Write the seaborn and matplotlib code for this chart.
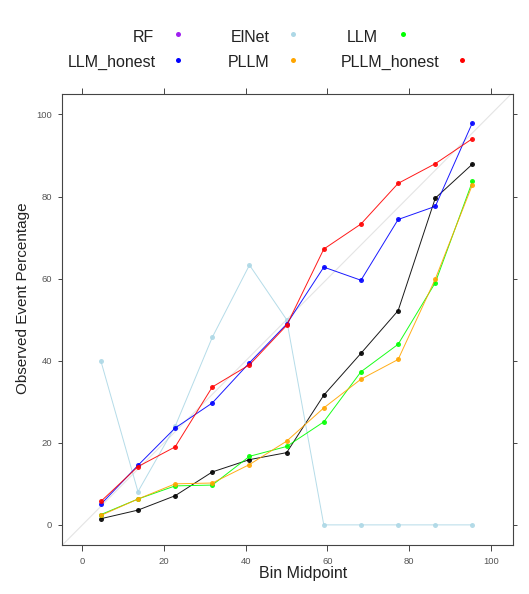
import matplotlib
matplotlib.use("Agg")
import matplotlib.pyplot as plt
from matplotlib.lines import Line2D
from matplotlib import font_manager
import numpy as np
import pandas as pd
import seaborn as sns

# Calibration data: observed event percentage per predicted-probability bin
bin_mid = [4.5, 13.6, 22.7, 31.8, 40.9, 50.0, 59.1, 68.2, 77.3, 86.4, 95.5]
rf = [1.5, 3.6, 7.1, 12.9, 15.9, 17.6, 31.6, 41.8, 52.2, 79.6, 87.9]
elnet = [40.0, 8.1, 24.0, 45.7, 63.3, 50.0, 0.0, 0.0, 0.0, 0.0, 0.0]
llm = [2.5, 6.3, 9.5, 9.7, 16.7, 19.1, 25.1, 37.3, 44.0, 59.0, 83.7]
llm_honest = [5.0, 14.5, 23.6, 29.7, 39.5, 48.9, 62.8, 59.6, 74.4, 77.6, 98.0]
pllm = [2.3, 6.3, 10.0, 10.2, 14.7, 20.4, 28.5, 35.5, 40.3, 59.9, 82.9]
pllm_honest = [5.7, 14.2, 19.0, 33.6, 39.0, 48.6, 67.2, 73.3, 83.2, 88.0, 94.1]

models = ["RF", "ElNet", "LLM", "LLM_honest", "PLLM", "PLLM_honest"]
series = [rf, elnet, llm, llm_honest, pllm, pllm_honest]
key_colors = ["#A020F0", "#ADD8E6", "#00FF00", "#0000FF", "#FFA500", "#FF0000"]
line_colors = ["#000000", "#ADD8E6", "#00FF00", "#0000FF", "#FFA500", "#FF0000"]
x_ticks = [0, 20, 40, 60, 80, 100]
y_ticks = [0, 20, 40, 60, 80, 100]

df = pd.DataFrame({
    "Bin Midpoint": np.tile(bin_mid, len(models)),
    "Observed Event Percentage": np.concatenate(series),
    "model": np.repeat(models, len(bin_mid)),
})

sns.set_style("white")
names = {f.name for f in font_manager.fontManager.ttflist}
narrow = "Liberation Sans Narrow" if "Liberation Sans Narrow" in names else "Liberation Sans"
plt.rcParams["font.family"] = ["Liberation Sans", "DejaVu Sans"]

W, H = 529, 594
fig = plt.figure(figsize=(W / 100, H / 100), dpi=100)
ax = fig.add_axes([62 / W, 49 / H, 451.3 / W, 450.7 / H])

# reference diagonal (perfect calibration)
ax.axline((0, 0), slope=1, color="#e4e4e4", lw=0.8, zorder=0)

sns.lineplot(
    data=df, x="Bin Midpoint", y="Observed Event Percentage", hue="model",
    hue_order=models, palette=dict(zip(models, line_colors)),
    estimator=None, sort=False, marker="o", markersize=3.6,
    markeredgewidth=0, linewidth=0.7, alpha=0.9, legend=False, ax=ax,
)

ax.set_xlim(-5, 105.5)
ax.set_ylim(-4.9, 104.9)
ax.set_xticks(x_ticks)
ax.set_yticks(y_ticks)
ax.set_xticklabels([str(t) for t in x_ticks], fontfamily=narrow, fontsize=6.8, color="#555555")
ax.set_yticklabels([str(t) for t in y_ticks], fontfamily=narrow, fontsize=6.8, color="#555555")
ax.tick_params(axis="x", direction="out", length=4.5, width=0.7, color="#444444",
               pad=4.0, top=True, bottom=True)
ax.tick_params(axis="y", direction="out", length=3.0, width=0.7, color="#444444",
               pad=4.0, left=True, right=True)
for sp in ax.spines.values():
    sp.set_color("#444444")
    sp.set_linewidth(0.8)

ax.set_xlabel("Bin Midpoint", fontsize=11.5, color="#222222")
ax.set_ylabel("Observed Event Percentage", fontsize=11.0, color="#222222")
ax.xaxis.label.set_va("center")
ax.yaxis.label.set_va("center")
ax.xaxis.set_label_coords((303 - 62) / 451.3, (545 - 573.5) / 450.7)
ax.yaxis.set_label_coords((23 - 62) / 451.3, (545 - 298.5) / 450.7)

# key above the panel: text followed by a point symbol, three columns
key_text_x = [133, 231, 347, 68, 228, 341]
key_mark_x = [178, 293, 403, 178, 293, 462]
key_row = [0, 0, 0, 1, 1, 1]
base_y = [41.7, 66.7]
mark_y = [34.3, 60.0]
for name, col, tx, mx, r in zip(models, key_colors, key_text_x, key_mark_x, key_row):
    fig.text(tx / W, 1 - base_y[r] / H, name, fontsize=11.5, color="#222222",
             ha="left", va="baseline")
    fig.add_artist(Line2D([mx / W], [1 - mark_y[r] / H], transform=fig.transFigure,
                          marker="o", markersize=3.6, markeredgewidth=0,
                          color=col, linestyle="none"))

fig.savefig("out.png", dpi=100)
